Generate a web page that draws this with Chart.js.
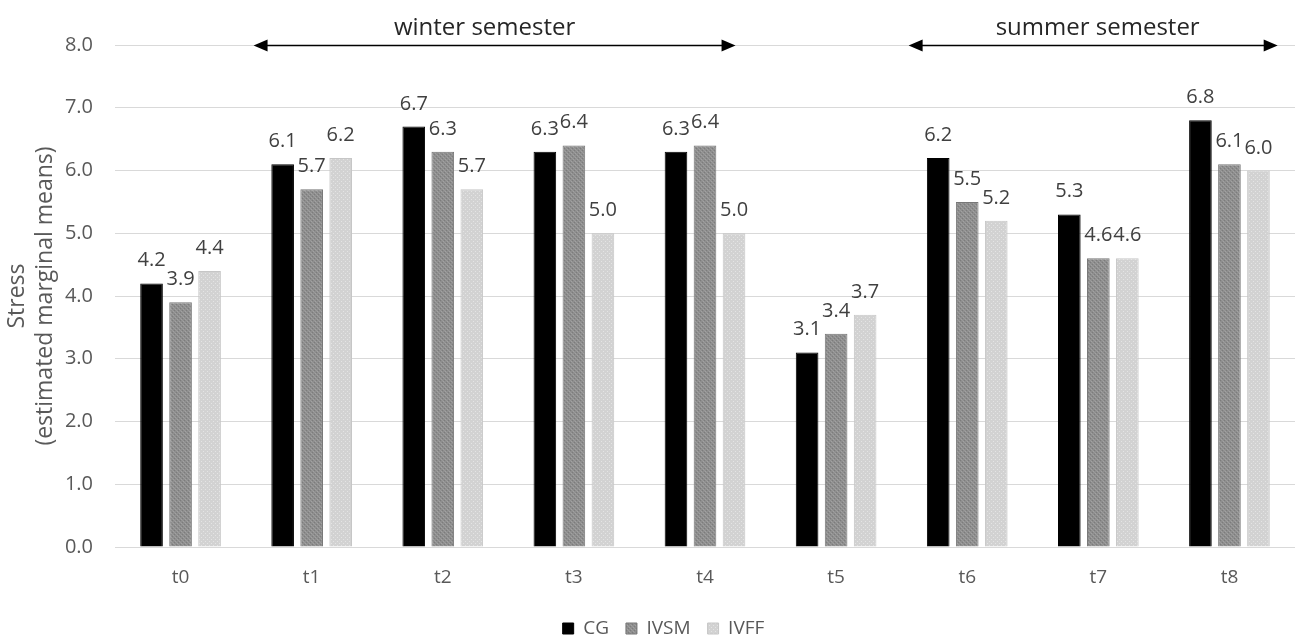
<!DOCTYPE html>
<html>
<head>
<meta charset="utf-8">
<script src="https://cdn.jsdelivr.net/npm/chart.js@4.4.1/dist/chart.umd.min.js"></script>
<style>
  html, body { margin: 0; padding: 0; background: #ffffff; }
  #wrap { width: 1295px; height: 636px; }
</style>
</head>
<body>
<div id="wrap"><canvas id="c" width="1295" height="636"></canvas></div>
<script>
// Measurement points
const timePoints = ['t0', 't1', 't2', 't3', 't4', 't5', 't6', 't7', 't8'];

// Stress, estimated marginal means per group
const seriesNames = ['CG', 'IVSM', 'IVFF'];
const cgValues   = [4.2, 6.1, 6.7, 6.3, 6.3, 3.1, 6.2, 5.3, 6.8];
const ivsmValues = [3.9, 5.7, 6.3, 6.4, 6.4, 3.4, 5.5, 4.6, 6.1];
const ivffValues = [4.4, 6.2, 5.7, 5.0, 5.0, 3.7, 5.2, 4.6, 6.0];

// Y axis range
const yTicks = [0, 1, 2, 3, 4, 5, 6, 7, 8];

// Semester spans (in category units from t0) shown as double arrows at the top
const semesterNames = ['winter semester', 'summer semester'];
const semesterStart = [0.557, 5.553];
const semesterEnd   = [4.233, 8.368];
const semesterTextAt = [2.319, 6.995];

const FONT = "'Open Sans', 'Noto Sans', sans-serif";

// Small textured fills for the grey series
function makePattern(base, marks) {
  const p = document.createElement('canvas');
  p.width = 4; p.height = 4;
  const g = p.getContext('2d');
  g.fillStyle = base;
  g.fillRect(0, 0, 4, 4);
  marks.forEach(m => { g.fillStyle = m[2]; g.fillRect(m[0], m[1], 1, 1); });
  return g.createPattern(p, 'repeat');
}
const ctx = document.getElementById('c').getContext('2d');
const ivsmFill = makePattern('#8e8e8e', [[0,0,'#7c7c7c'],[2,2,'#7c7c7c'],[1,3,'#a2a2a2'],[3,1,'#a2a2a2'],[2,0,'#999'],[0,2,'#999']]);
const ivffFill = makePattern('#d2d2d2', [[1,1,'#e4e4e4'],[3,3,'#e4e4e4']]);

// Value labels above each bar
const valueLabels = {
  id: 'valueLabels',
  afterDatasetsDraw(chart) {
    const c = chart.ctx;
    c.save();
    c.font = '20px ' + FONT;
    c.fillStyle = '#404040';
    c.textAlign = 'center';
    c.textBaseline = 'alphabetic';
    chart.data.datasets.forEach((ds, di) => {
      const meta = chart.getDatasetMeta(di);
      meta.data.forEach((bar, i) => {
        c.fillText(ds.data[i].toFixed(1), bar.x, bar.y - 17);
      });
    });
    c.restore();
  }
};

// Double-headed arrows marking the semesters
const semesterArrows = {
  id: 'semesterArrows',
  afterDraw(chart) {
    const x = chart.scales.x, y = chart.scales.y;
    const x0 = x.getPixelForValue(0);
    const step = x.getPixelForValue(1) - x0;
    const yy = y.getPixelForValue(8) + 0.5;
    const c = chart.ctx;
    c.save();
    c.strokeStyle = '#000';
    c.fillStyle = '#000';
    c.lineWidth = 1.5;
    semesterNames.forEach((name, k) => {
      const a = x0 + semesterStart[k] * step;
      const b = x0 + semesterEnd[k] * step;
      const head = 14, half = 6;
      c.beginPath();
      c.moveTo(a + head - 2, yy);
      c.lineTo(b - head + 2, yy);
      c.stroke();
      c.beginPath();
      c.moveTo(a, yy); c.lineTo(a + head, yy - half); c.lineTo(a + head, yy + half); c.closePath(); c.fill();
      c.beginPath();
      c.moveTo(b, yy); c.lineTo(b - head, yy - half); c.lineTo(b - head, yy + half); c.closePath(); c.fill();
      c.font = '24px ' + FONT;
      c.fillStyle = '#262626';
      c.textAlign = 'center';
      c.textBaseline = 'alphabetic';
      c.fillText(name, x0 + semesterTextAt[k] * step, yy - 11);
      c.fillStyle = '#000';
    });
    c.restore();
  }
};

// Nudge the legend row a little to the right of centre
const legendShift = {
  id: 'legendShift',
  afterLayout(chart) {
    if (chart.legend) { chart.legend.left += 16; chart.legend.right += 16; }
  }
};

const whiteBg = {
  id: 'whiteBg',
  beforeDraw(chart) {
    const c = chart.ctx;
    c.save();
    c.fillStyle = '#ffffff';
    c.fillRect(0, 0, chart.width, chart.height);
    c.restore();
  }
};

new Chart(ctx, {
  type: 'bar',
  data: {
    labels: timePoints,
    datasets: [
      { label: seriesNames[0], data: cgValues, backgroundColor: '#000000', borderColor: '#000000', borderWidth: 1 },
      { label: seriesNames[1], data: ivsmValues, backgroundColor: ivsmFill, borderColor: '#777777', borderWidth: 1 },
      { label: seriesNames[2], data: ivffValues, backgroundColor: ivffFill, borderColor: '#c6c6c6', borderWidth: 1 }
    ]
  },
  options: {
    responsive: false,
    animation: false,
    devicePixelRatio: 1,
    categoryPercentage: 0.664,
    barPercentage: 0.78,
    layout: { padding: { top: 45, right: 0, left: 0, bottom: -12 } },
    plugins: {
      legend: {
        position: 'bottom',
        labels: {
          font: { family: FONT, size: 19 },
          color: '#595959',
          boxWidth: 11,
          boxHeight: 11,
          padding: 17
        }
      },
      tooltip: { enabled: false },
      title: { display: false }
    },
    scales: {
      x: {
        grid: { display: false },
        border: { display: false },
        ticks: { font: { family: FONT, size: 19 }, color: '#595959', padding: 11 },
        afterFit(s) { s.height = 55; }
      },
      y: {
        min: yTicks[0],
        max: yTicks[yTicks.length - 1],
        afterBuildTicks(s) { s.ticks = yTicks.map(v => ({ value: v })); },
        grid: { color: '#d9d9d9', lineWidth: 1, drawTicks: false },
        border: { display: false },
        ticks: {
          font: { family: FONT, size: 20 },
          color: '#595959',
          padding: 22,
          callback: v => Number(v).toFixed(1)
        },
        title: {
          display: true,
          text: ['Stress', '(estimated marginal means)'],
          font: { family: FONT, size: 23, lineHeight: 1.22 },
          color: '#595959',
          padding: { top: 3, bottom: 0 }
        },
        afterFit(s) { s.width = 115; }
      }
    }
  },
  plugins: [whiteBg, legendShift, valueLabels, semesterArrows]
});
</script>
</body>
</html>
